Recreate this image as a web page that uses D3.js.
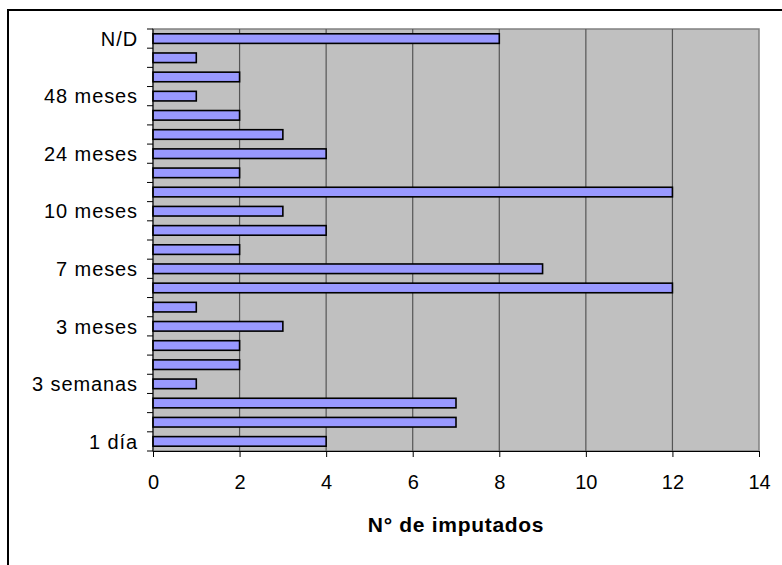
<!DOCTYPE html>
<html>
<head>
<meta charset="utf-8">
<script src="https://cdn.jsdelivr.net/npm/d3@7"></script>
<style>
  html, body { margin: 0; padding: 0; background: #fff; }
  svg { display: block; font-family: "Liberation Sans", Arial, sans-serif; }
</style>
</head>
<body>
<svg id="chart" width="782" height="565"></svg>
<script>
// Time categories, bottom to top
const categories = [
  "1 día", "1 semana", "2 semanas", "3 semanas", "1 mes", "2 meses",
  "3 meses", "4 meses", "6 meses", "7 meses", "8 meses", "9 meses",
  "10 meses", "12 meses", "18 meses", "24 meses", "30 meses", "36 meses",
  "48 meses", "60 meses", "72 meses", "N/D"
];
const values = [4, 7, 7, 1, 2, 2, 3, 1, 12, 9, 2, 4, 3, 12, 2, 4, 3, 2, 1, 2, 1, 8];
const xTicks = [0, 2, 4, 6, 8, 10, 12, 14];
const xTitle = "N° de imputados";

const svg = d3.select("#chart");

// Outer chart frame
svg.append("rect")
  .attr("x", 8).attr("y", 10)
  .attr("width", 800).attr("height", 600)
  .attr("fill", "#fff").attr("stroke", "#000").attr("stroke-width", 2);

const plot = { left: 153, top: 29, right: 759, bottom: 451 };

const x = d3.scaleLinear().domain([0, 14]).range([plot.left, plot.right]);
const y = d3.scaleBand()
  .domain(categories.slice().reverse())
  .range([plot.top, plot.bottom])
  .paddingInner(0.5).paddingOuter(0.25);
const yBand = d3.scaleBand()
  .domain(categories.slice().reverse())
  .range([plot.top, plot.bottom]);

// Plot area background
svg.append("rect")
  .attr("x", plot.left).attr("y", plot.top)
  .attr("width", plot.right - plot.left).attr("height", plot.bottom - plot.top)
  .attr("fill", "#C0C0C0").attr("stroke", "#808080").attr("stroke-width", 1.5);

// Vertical gridlines
svg.append("g").selectAll("line")
  .data(xTicks.filter(t => t > 0 && t < 14))
  .join("line")
  .attr("x1", d => x(d)).attr("x2", d => x(d))
  .attr("y1", plot.top).attr("y2", plot.bottom)
  .attr("stroke", "#555").attr("stroke-width", 1.2);

// Bars
svg.append("g").selectAll("rect")
  .data(categories.map((c, i) => ({ c, v: values[i] })))
  .join("rect")
  .attr("x", x(0))
  .attr("y", d => y(d.c))
  .attr("width", d => x(d.v) - x(0))
  .attr("height", y.bandwidth())
  .attr("fill", "#9999FF").attr("stroke", "#000").attr("stroke-width", 1.6);

// Category axis (ticks at band boundaries)
const boundaries = d3.range(categories.length + 1).map(i => plot.top + i * yBand.step());
svg.append("g").selectAll("line")
  .data(boundaries)
  .join("line")
  .attr("x1", plot.left - 6).attr("x2", plot.left)
  .attr("y1", d => d).attr("y2", d => d)
  .attr("stroke", "#000").attr("stroke-width", 1);
svg.append("line")
  .attr("x1", plot.left).attr("x2", plot.left)
  .attr("y1", plot.top).attr("y2", plot.bottom)
  .attr("stroke", "#000").attr("stroke-width", 1);

// Every third category is labelled
svg.append("g").selectAll("text")
  .data(categories.filter((c, i) => i % 3 === 0))
  .join("text")
  .attr("x", plot.left - 15)
  .attr("y", d => yBand(d) + yBand.bandwidth() / 2)
  .attr("dy", "0.36em")
  .attr("text-anchor", "end")
  .attr("font-size", 20)
  .attr("letter-spacing", "0.9px")
  .attr("fill", "#000")
  .text(d => d);

// Value axis
const xAxis = d3.axisBottom(x).tickValues(xTicks).tickSize(6);
const gx = svg.append("g")
  .attr("transform", `translate(0,${plot.bottom})`)
  .call(xAxis);
gx.select(".domain").attr("stroke", "#000");
gx.selectAll(".tick line").attr("stroke", "#000");
gx.selectAll(".tick text")
  .attr("y", 38).attr("dy", 0)
  .attr("font-size", 20)
  .attr("font-family", "Liberation Sans, Arial, sans-serif")
  .attr("fill", "#000");

svg.append("text")
  .attr("x", (plot.left + plot.right) / 2)
  .attr("y", 532)
  .attr("text-anchor", "middle")
  .attr("font-size", 21)
  .attr("font-weight", "bold")
  .attr("letter-spacing", "0.7px")
  .attr("fill", "#000")
  .text(xTitle);
</script>
</body>
</html>
